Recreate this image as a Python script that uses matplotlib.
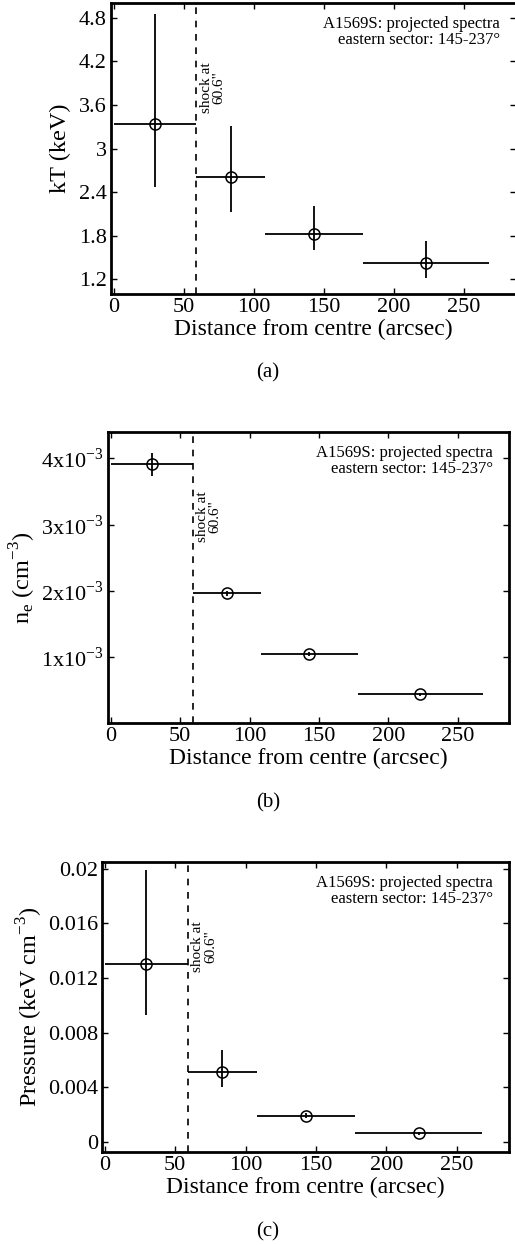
import matplotlib.pyplot as plt
from matplotlib.ticker import FuncFormatter

plt.rcParams['font.family'] = ['Liberation Serif', 'DejaVu Serif']
plt.rcParams['mathtext.fontset'] = 'custom'
plt.rcParams['mathtext.rm'] = 'Liberation Serif'

# radial bins (arcsec)
r_mid = [29.5, 83.5, 143.0, 223.0]
r_half = [29.5, 24.5, 35.0, 45.0]
shock_r = 59.0

# temperature (keV)
kT = [3.33, 2.61, 1.83, 1.42]
kT_lo = [0.86, 0.48, 0.22, 0.20]
kT_hi = [1.52, 0.70, 0.38, 0.31]

# electron density (cm^-3)
ne = [3.91e-3, 1.96e-3, 1.04e-3, 0.434e-3]
ne_lo = [0.17e-3, 0.04e-3, 0.03e-3, 0.02e-3]
ne_hi = [0.17e-3, 0.04e-3, 0.03e-3, 0.02e-3]

# pressure (keV cm^-3)
pres = [0.0130, 0.00512, 0.00192, 0.00061]
pres_lo = [0.0037, 0.00108, 0.0002, 0.0001]
pres_hi = [0.0069, 0.0016, 0.0002, 0.0001]

fig = plt.figure(figsize=(5.15, 12.45), dpi=100)
W, H = 515.0, 1245.0


def make_ax(left, right, top, bottom):
    return fig.add_axes([left / W, 1 - bottom / H, (right - left) / W, (bottom - top) / H])


def panel(ax, y, lo, hi, ylim, yticks, ylabel, tag, tag_y, fmt=None, ylpad=4):
    ax.errorbar(r_mid, y, xerr=r_half, yerr=[lo, hi], fmt='o', color='black',
                mfc='none', mec='black', ms=8, mew=1.1, elinewidth=1.3, capsize=0)
    ax.axvline(shock_r, color='black', ls=(0, (4, 4)), lw=1.2)
    ax.set_xlim(-2, 287)
    ax.set_ylim(*ylim)
    ax.set_xticks([0, 50, 100, 150, 200, 250])
    ax.set_yticks(yticks)
    if fmt is not None:
        ax.yaxis.set_major_formatter(FuncFormatter(fmt))
    ax.tick_params(direction='in', top=True, right=True, length=4, width=1,
                   labelsize=16, pad=3)
    for s in ax.spines.values():
        s.set_linewidth(2)
    ax.set_xlabel('Distance from centre (arcsec)', fontsize=17, labelpad=1)
    ax.set_ylabel(ylabel, fontsize=17.5, labelpad=ylpad)
    ax.text(0.96, 0.955, 'A1569S: projected spectra\neastern sector: 145-237°',
            transform=ax.transAxes, ha='right', va='top', fontsize=12,
            multialignment='right', linespacing=1.0)
    ax.text(shock_r + 2.5, 0.795, 'shock at\n60.6"', transform=ax.get_xaxis_transform(),
            rotation=90, ha='left', va='top', fontsize=11, multialignment='center',
            linespacing=0.95)
    fig.text(268 / W, 1 - tag_y / H, tag, ha='center', va='center', fontsize=15)


ax1 = make_ax(111, 516, 3, 294)
panel(ax1, kT, kT_lo, kT_hi, (1.0, 5.0), [1.2, 1.8, 2.4, 3.0, 3.6, 4.2, 4.8],
      'kT (keV)', '(a)', 373, fmt=lambda v, p: ('%g' % round(v, 1)), ylpad=6)

ax2 = make_ax(108, 509, 432, 723)
panel(ax2, ne, ne_lo, ne_hi, (0.0, 4.4e-3), [1e-3, 2e-3, 3e-3, 4e-3],
      r'n$_\mathregular{e}$ (cm$^\mathregular{-3}$)', '(b)', 803,
      fmt=lambda v, p: r'%dx10$^\mathregular{-3}$' % round(v * 1e3), ylpad=2)

ax3 = make_ax(102, 509, 862, 1152)
panel(ax3, pres, pres_lo, pres_hi, (-0.00075, 0.0205), [0, 0.004, 0.008, 0.012, 0.016, 0.02],
      r'Pressure (keV cm$^\mathregular{-3}$)', '(c)', 1232,
      fmt=lambda v, p: ('%g' % round(v, 3)), ylpad=2)

fig.savefig('out.png', dpi=100)
